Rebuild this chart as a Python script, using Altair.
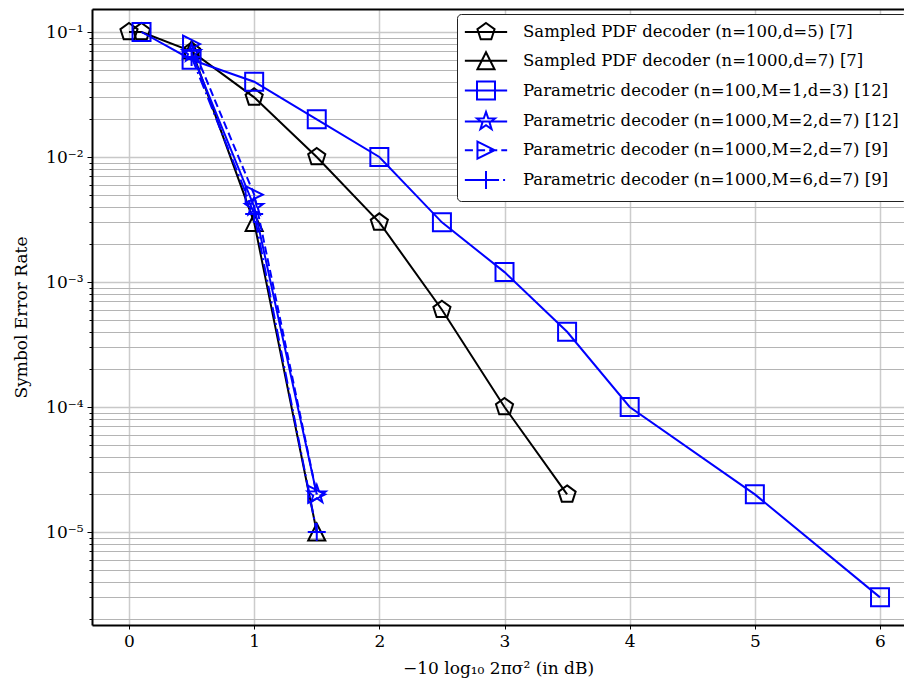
import math
import altair as alt
import pandas as pd

# ---------------- data ----------------
names = [
    "Sampled PDF decoder (n=100,d=5) [7]",
    "Sampled PDF decoder (n=1000,d=7) [7]",
    "Parametric decoder (n=100,M=1,d=3) [12]",
    "Parametric decoder (n=1000,M=2,d=7) [12]",
    "Parametric decoder (n=1000,M=2,d=7) [9]",
    "Parametric decoder (n=1000,M=6,d=7) [9]",
]
s1_x = [0, 0.1, 0.5, 1, 1.5, 2, 2.5, 3, 3.5]
s1_y = [0.1, 0.1, 0.07, 0.03, 0.01, 0.003, 6e-4, 1e-4, 2e-5]
s2_x = [0.5, 1, 1.5]
s2_y = [0.072, 0.003, 1e-5]
s3_x = [0.1, 0.5, 1, 1.5, 2, 2.5, 3, 3.5, 4, 5, 6]
s3_y = [0.1, 0.06, 0.04, 0.02, 0.01, 0.003, 0.0012, 4e-4, 1e-4, 2e-5, 3e-6]
s4_x = [0.5, 1, 1.5]
s4_y = [0.068, 0.004, 2e-5]
s5_x = [0.5, 1, 1.5]
s5_y = [0.08, 0.005, 2e-5]
s6_x = [0.5, 1, 1.5]
s6_y = [0.063, 0.0035, 1e-5]

x_ticks = [0, 1, 2, 3, 4, 5, 6]
y_tick_values = [1e-1, 1e-2, 1e-3, 1e-4, 1e-5]
y_tick_labels = ["10⁻¹", "10⁻²", "10⁻³", "10⁻⁴", "10⁻⁵"]

x_title = "−10 log₁₀ 2πσ² (in dB)"
y_title = "Symbol Error Rate"

# ---------------- styles ----------------
FONT = "DejaVu Serif"
BLACK = "#000000"
BLUE = "#0000ff"
colors = [BLACK, BLACK, BLUE, BLUE, BLUE, BLUE]
dashes = [None, None, None, None, [8, 4], [12, 4, 2, 4]]

def poly(pts):
    return "M" + "L".join(f"{x:.3f},{y:.3f}" for x, y in pts) + "Z"

pent = poly([(1.0 * math.sin(math.radians(72 * i)), -1.0 * math.cos(math.radians(72 * i))) for i in range(5)])
tri_up = poly([(0, -0.95), (-0.95, 0.95), (0.95, 0.95)])
square = poly([(-1, -1), (1, -1), (1, 1), (-1, 1)])
star = poly([((1.05 if i % 2 == 0 else 0.42) * math.sin(math.radians(36 * i)),
              -(1.05 if i % 2 == 0 else 0.42) * math.cos(math.radians(36 * i))) for i in range(10)])
tri_right = poly([(0.95, 0), (-0.95, -0.95), (-0.95, 0.95)])
plus = "M-1,0H1M0,-1V1"
markers = [pent, tri_up, square, star, tri_right, plus]

solid_leg = "M-2.35,0H2.35"
dash_leg = "M-2.35,0H-1.45M-1.0,0H-0.1M0.35,0H1.25M1.7,0H2.35"
dashdot_leg = "M-2.35,0H-1.0M-0.55,0H-0.33M0.1,0H1.45M1.9,0H2.12"
leg_lines = [solid_leg, solid_leg, solid_leg, solid_leg, dash_leg, dashdot_leg]
legend_paths = [l + m for l, m in zip(leg_lines, markers)]

MSIZE = 324
series = [(s1_x, s1_y), (s2_x, s2_y), (s3_x, s3_y), (s4_x, s4_y), (s5_x, s5_y), (s6_x, s6_y)]

# ---------------- geometry ----------------
W, H = 812, 616
x_lo, x_hi = -0.2956, 6.1916
y_lo, y_hi = 10 ** -5.744, 10 ** -0.816

x_scale = alt.Scale(domain=[x_lo, x_hi], nice=False, zero=False)
y_scale = alt.Scale(type="log", domain=[y_lo, y_hi], nice=False)

y_minor = []
for e in range(-6, 0):
    for k in range(1, 10):
        v = k * 10 ** e
        if y_lo <= v <= y_hi:
            y_minor.append(v)

label_expr = " : ".join(
    f"abs(datum.value / {v} - 1) < 1e-6 ? '{t}'" for v, t in zip(y_tick_values, y_tick_labels)
) + " : ''"
is_minor = "abs(log(datum.value) / LN10 - round(log(datum.value) / LN10)) > 1e-6"

x_axis_bottom = alt.Axis(
    orient="bottom", values=x_ticks, title=x_title, grid=True, gridColor="#cccccc", gridWidth=1.5,
    domainColor=BLACK, domainWidth=2, tickColor=BLACK, tickSize=4, tickWidth=1,
    labelFont=FONT, labelFontSize=17, labelColor=BLACK, labelPadding=4,
    titleFont=FONT, titleFontSize=17, titleFontWeight="normal", titleColor=BLACK, titlePadding=11,
    format="d",
)
x_axis_top = alt.Axis(orient="top", labels=False, ticks=False, grid=False, domainColor=BLACK,
                      domainWidth=2, title=None)
y_axis = alt.Axis(
    orient="left", values=y_minor, labelExpr=label_expr, title=y_title, grid=True,
    gridColor={"condition": {"test": is_minor, "value": "#b4b4b4"}, "value": "#c8c8c8"},
    gridWidth={"condition": {"test": is_minor, "value": 1}, "value": 1.3},
    tickSize={"condition": {"test": is_minor, "value": 3}, "value": 5},
    domainColor=BLACK, domainWidth=2, tickColor=BLACK, tickWidth=1,
    labelFont=FONT, labelFontSize=17, labelColor=BLACK, labelPadding=4, labelOverlap=False,
    titleFont=FONT, titleFontSize=17, titleFontWeight="normal", titleColor=BLACK, titlePadding=15,
)

layers = []
for i, ((xs, ys), name) in enumerate(zip(series, names)):
    df = pd.DataFrame({"x": xs, "y": ys})
    line_kwargs = dict(color=colors[i], strokeWidth=2)
    if dashes[i]:
        line_kwargs["strokeDash"] = dashes[i]
    xa_line = x_axis_bottom if i == 0 else None
    ya_line = y_axis if i == 0 else None
    xa_pt = x_axis_top if i == 0 else None
    line = alt.Chart(df).mark_line(**line_kwargs).encode(
        x=alt.X("x:Q", scale=x_scale, axis=xa_line),
        y=alt.Y("y:Q", scale=y_scale, axis=ya_line),
    )
    pts = alt.Chart(df).mark_point(
        shape=markers[i], size=MSIZE, filled=False, stroke=colors[i], strokeWidth=2, opacity=1
    ).encode(
        x=alt.X("x:Q", scale=x_scale, axis=xa_pt),
        y=alt.Y("y:Q", scale=y_scale, axis=None),
    )
    layers += [line, pts]

leg_df = pd.DataFrame({"series": names})
leg = alt.Legend(
    title=None, orient="none", legendX=365, legendY=5,
    labelFont=FONT, labelFontSize=16.5, labelColor=BLACK, labelLimit=700,
    symbolSize=MSIZE, symbolStrokeWidth=2, symbolOffset=11, labelOffset=27,
    rowPadding=3.8, padding=8, strokeColor="#222222", fillColor="white", cornerRadius=4,
)
legend_layer = alt.Chart(leg_df).mark_point(filled=False, strokeWidth=2, opacity=1, size=MSIZE).encode(
    color=alt.Color("series:N", scale=alt.Scale(domain=names, range=colors), legend=leg),
    shape=alt.Shape("series:N", scale=alt.Scale(domain=names, range=legend_paths), legend=leg),
).transform_filter("false")
layers.append(legend_layer)

chart = alt.layer(*layers).resolve_axis(x="independent", y="independent").properties(
    width=W, height=H,
    autosize=alt.AutoSizeParams(type="none"),
    padding={"left": 84, "top": 1, "right": 0, "bottom": 54},
).configure_view(stroke=None).configure(background="white")

chart.save("out.html", embed_options={"renderer": "svg", "actions": False})
